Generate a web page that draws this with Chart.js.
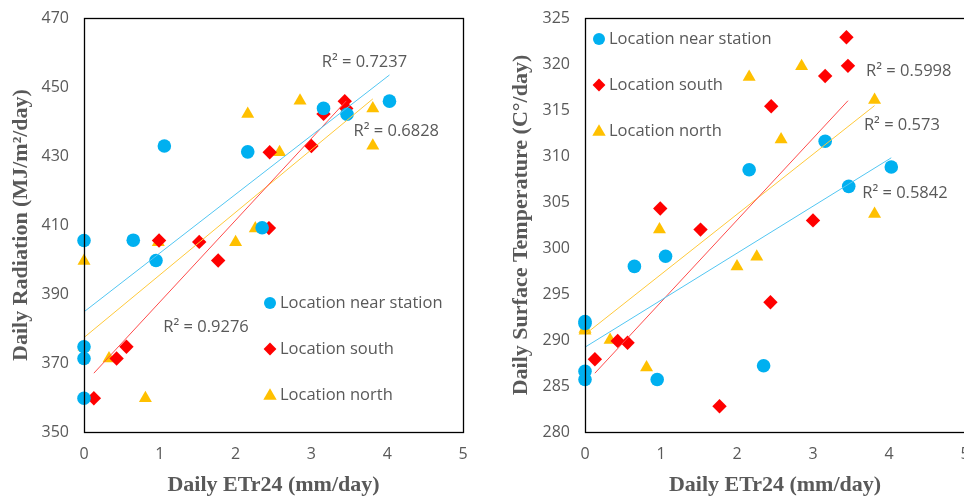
<!DOCTYPE html>
<html>
<head>
<meta charset="utf-8">
<script src="https://cdn.jsdelivr.net/npm/chart.js@4/dist/chart.umd.min.js"></script>
<style>
  html, body { margin: 0; padding: 0; background: #fff; overflow: hidden; }
  #wrap { position: relative; width: 964px; height: 499px; overflow: hidden; }
  #leftBox { position: absolute; left: 0; top: 0; width: 482px; height: 499px; }
  #rightBox { position: absolute; left: 482px; top: 0; width: 500px; height: 499px; }
</style>
</head>
<body>
<div id="wrap">
  <div id="leftBox"><canvas id="radChart"></canvas></div>
  <div id="rightBox"><canvas id="tempChart"></canvas></div>
</div>
<script>
// ETr24 values (mm/day) for each location, shared by both charts
const nearEt  = [0, 0, 0, 0, 0.65, 0.95, 1.06, 2.16, 2.35, 3.16, 3.47, 4.03];
const southEt = [0.13, 0.43, 0.56, 0.99, 1.52, 1.77, 2.44, 2.45, 3.0, 3.16, 3.44, 3.46];
const northEt = [0, 0, 0.33, 0.81, 0.98, 2.0, 2.16, 2.26, 2.58, 2.85, 3.81, 3.81];

// daily radiation (MJ/m2/day)
const radNear  = [405.5, 374.7, 371.3, 359.8, 405.6, 399.7, 432.9, 431.2, 409.2, 443.8, 442.1, 445.9];
const radSouth = [359.8, 371.3, 374.7, 405.5, 405.1, 399.7, 409.1, 431.1, 432.9, 442.2, 445.9, 443.8];
const radNorth = [399.6, 374.7, 371.3, 359.8, 405.0, 405.0, 442.2, 409.0, 431.1, 446.0, 443.8, 433.0];

// daily surface temperature
const tempNear  = [292.0, 291.8, 286.6, 285.7, 298.0, 285.7, 299.1, 308.5, 287.2, 311.6, 306.7, 308.8];
const tempSouth = [287.9, 289.9, 289.7, 304.3, 302.0, 282.8, 294.1, 315.4, 303.0, 318.7, 322.9, 319.8];
const tempNorth = [291.2, 291.0, 290.0, 287.0, 302.0, 298.0, 318.6, 299.05, 311.8, 319.75, 316.1, 303.7];

const seriesNames = ['Location near station', 'Location south', 'Location north'];
const xTicks = [0, 1, 2, 3, 4, 5];
const radTicks = [350, 370, 390, 410, 430, 450, 470];
const tempTicks = [280, 285, 290, 295, 300, 305, 310, 315, 320, 325];

// R² labels, anchored in data space [x, y, text]
const radR2 = [[3.70, 457.2, 'R² = 0.7237'], [4.12, 437.2, 'R² = 0.6828'], [1.61, 380.4, 'R² = 0.9276']];
const tempR2 = [[4.26, 319.2, 'R² = 0.5998'], [4.17, 313.3, 'R² = 0.573'], [4.21, 306.0, 'R² = 0.5842']];

const colors = ['#00B0F0', '#FF0000', '#FFC000'];
const trendColors = ['#52C6F2', '#FF4B4B', '#FFC93A'];
const styles = ['circle', 'rectRot', 'triangle'];
const radii = [6.8, 7.2, 7.5];
const grey = '#595959';

function pts(xs, ys) {
  return xs.map((x, i) => ({ x: x, y: ys[i] }));
}

// least squares line over the range of the series (like an Excel trendline)
function trend(xs, ys) {
  const n = xs.length;
  const mx = xs.reduce((a, b) => a + b, 0) / n;
  const my = ys.reduce((a, b) => a + b, 0) / n;
  let sxy = 0, sxx = 0;
  for (let i = 0; i < n; i++) {
    sxy += (xs[i] - mx) * (ys[i] - my);
    sxx += (xs[i] - mx) * (xs[i] - mx);
  }
  const b = sxy / sxx, a = my - b * mx;
  const x0 = Math.min(...xs), x1 = Math.max(...xs);
  return [{ x: x0, y: a + b * x0 }, { x: x1, y: a + b * x1 }];
}

function drawMarker(ctx, style, x, y, r, color) {
  ctx.save();
  ctx.fillStyle = color;
  ctx.beginPath();
  if (style === 'circle') {
    ctx.arc(x, y, r, 0, Math.PI * 2);
  } else if (style === 'rectRot') {
    ctx.moveTo(x, y - r); ctx.lineTo(x + r, y); ctx.lineTo(x, y + r); ctx.lineTo(x - r, y);
  } else {
    ctx.moveTo(x, y - r); ctx.lineTo(x + r, y + r * 0.7); ctx.lineTo(x - r, y + r * 0.7);
  }
  ctx.closePath();
  ctx.fill();
  ctx.restore();
}

// box around plot, R² texts and a custom legend
const extras = {
  id: 'extras',
  afterDraw(chart, args, opts) {
    const ctx = chart.ctx, a = chart.chartArea;
    const xs = chart.scales.x, ys = chart.scales.y;
    ctx.save();
    ctx.strokeStyle = '#000';
    ctx.lineWidth = 1.3;
    ctx.strokeRect(Math.round(a.left) + 0.5, Math.round(a.top) + 0.5, Math.round(a.right - a.left), Math.round(a.bottom - a.top));
    ctx.font = '16.5px "Open Sans"';
    ctx.fillStyle = grey;
    ctx.textBaseline = 'middle';
    ctx.textAlign = 'center';
    opts.labels.forEach(l => ctx.fillText(l[2], xs.getPixelForValue(l[0]), ys.getPixelForValue(l[1])));
    ctx.textAlign = 'left';
    seriesNames.forEach((name, i) => {
      const lx = a.left + opts.legendX, ly = a.top + opts.legendY + i * 46;
      drawMarker(ctx, styles[i], lx, ly, radii[i] - 0.8, colors[i]);
      ctx.fillStyle = grey;
      ctx.fillText(name, lx + 10, ly);
    });
    ctx.restore();
  }
};

function makeChart(id, ys, yMin, yMax, yStep, yTitle, yWidth, titlePad, padRight, labels, legendX, legendY) {
  const ets = [nearEt, southEt, northEt];
  const datasets = [];
  ets.forEach((xs, i) => {
    datasets.push({
      label: seriesNames[i],
      data: pts(xs, ys[i]),
      pointStyle: styles[i],
      pointRadius: radii[i],
      backgroundColor: colors[i],
      borderColor: colors[i],
      borderWidth: 0,
      clip: false,
      order: 1
    });
  });
  ets.forEach((xs, i) => {
    datasets.push({
      label: seriesNames[i] + ' trend',
      data: trend(xs, ys[i]),
      showLine: true,
      pointRadius: 0,
      borderColor: trendColors[i],
      borderWidth: 1,
      order: 0
    });
  });
  return new Chart(document.getElementById(id), {
    type: 'scatter',
    data: { datasets: datasets },
    options: {
      responsive: true,
      maintainAspectRatio: false,
      animation: false,
      layout: { padding: { left: 0, right: padRight, top: 18, bottom: 0 } },
      plugins: {
        legend: { display: false },
        tooltip: { enabled: false },
        extras: { labels: labels, legendX: legendX, legendY: legendY }
      },
      scales: {
        x: {
          type: 'linear', min: 0, max: 5,
          afterBuildTicks: s => { s.ticks = xTicks.map(v => ({ value: v })); },
          afterFit: s => { s.height = 67; s.paddingLeft = 0; s.paddingRight = 0; },
          grid: { display: false, drawTicks: false },
          border: { display: false },
          ticks: { color: grey, font: { family: 'Open Sans', size: 16 }, padding: 13 },
          title: {
            display: true, text: 'Daily ETr24 (mm/day)', color: grey,
            font: { family: 'Liberation Serif', size: 22, weight: 'bold' },
            padding: { top: 0, bottom: 0 }
          }
        },
        y: {
          type: 'linear', min: yMin, max: yMax,
          afterBuildTicks: s => { s.ticks = yStep.map(v => ({ value: v })); },
          afterFit: s => { s.width = yWidth; s.paddingTop = 0; s.paddingBottom = 0; },
          grid: { display: false, drawTicks: false },
          border: { display: false },
          ticks: { color: grey, font: { family: 'Open Sans', size: 16 }, padding: 15 },
          title: {
            display: true, text: yTitle, color: grey,
            font: { family: 'Liberation Serif', size: 22, weight: 'bold' },
            padding: { top: titlePad, bottom: 0 }
          }
        }
      }
    },
    plugins: [extras]
  });
}

makeChart('radChart', [radNear, radSouth, radNorth], 350, 470, radTicks,
  'Daily Radiation (MJ/m²/day)', 84, 8, 19, radR2, 186, 285);
makeChart('tempChart', [tempNear, tempSouth, tempNorth], 280, 325, tempTicks,
  'Daily Surface Temperature (C°/day)', 103, 26, 17, tempR2, 14, 21);
</script>
</body>
</html>
